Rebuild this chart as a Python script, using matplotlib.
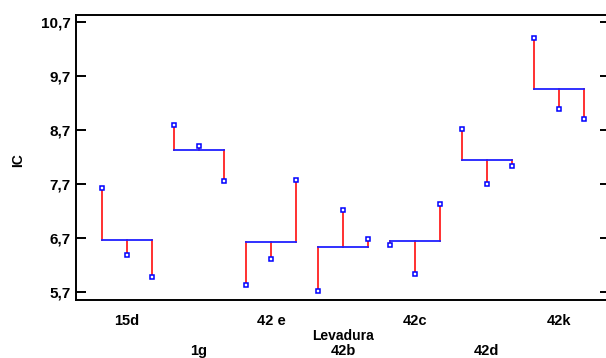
import matplotlib
matplotlib.use("Agg")
import matplotlib.pyplot as plt
import matplotlib.transforms as mtransforms

plt.rcParams["font.family"] = ["Liberation Sans", "DejaVu Sans"]

groups = ["15d", "1g", "42 e", "42b", "42c", "42d", "42k"]
obs_15d = [7.63, 6.39, 5.98]
obs_1g = [8.79, 8.41, 7.76]
obs_42e = [5.82, 6.31, 7.77]
obs_42b = [5.72, 7.21, 6.68]
obs_42c = [6.56, 6.03, 7.32]
obs_42d = [8.71, 7.69, 8.03]
obs_42k = [10.41, 9.09, 8.90]
observations = [obs_15d, obs_1g, obs_42e, obs_42b, obs_42c, obs_42d, obs_42k]
yticks = [5.7, 6.7, 7.7, 8.7, 9.7, 10.7]
ytick_labels = ["5,7", "6,7", "7,7", "8,7", "9,7", "10,7"]

W, H = 606, 358
fig = plt.figure(figsize=(W / 100, H / 100), dpi=100)
ax = fig.add_axes([76 / W, 1 - 300 / H, (610 - 76) / W, 285 / H])

offsets = [-0.347, 0.0, 0.347]
for gi, vals in enumerate(observations, start=1):
    mean = sum(vals) / len(vals)
    xs = [gi + o for o in offsets]
    for x, v in zip(xs, vals):
        ax.plot([x, x], [mean, v], color="#ff3030", lw=1.4, zorder=2)
    ax.plot([xs[0], xs[-1]], [mean, mean], color="#2020ff", lw=1.3, zorder=3)
    ax.plot(xs, vals, ls="none", marker="s", ms=3.5, mfc="white",
            mec="#0000ff", mew=1.1, zorder=4)

ax.set_xlim(0.29, 7.71)
ax.set_ylim(5.55, 10.83)
ax.set_yticks(yticks)
ax.set_yticklabels(ytick_labels, fontsize=11, fontweight="bold")
ax.set_xticks([])
ax.tick_params(axis="y", direction="in", length=7.5, width=1.4,
               left=True, right=True, pad=4)
for sp in ax.spines.values():
    sp.set_linewidth(1.4)

# group labels alternate between two rows
trans = mtransforms.blended_transform_factory(ax.transData, fig.transFigure)
for gi, name in enumerate(groups, start=1):
    ypix = 321 if gi % 2 == 1 else 351
    ax.text(gi, 1 - ypix / H, name, transform=trans, ha="center", va="center",
            fontsize=10.5, fontweight="bold")

fig.text((309 + 378) / 2 / W, 1 - 336 / H, "Levadura", ha="center", va="center",
         fontsize=10, fontweight="bold")
fig.text(18 / W, 1 - 160 / H, "IC", rotation=90, ha="center", va="center",
         fontsize=10, fontweight="bold")

fig.savefig("out.png", dpi=100)
